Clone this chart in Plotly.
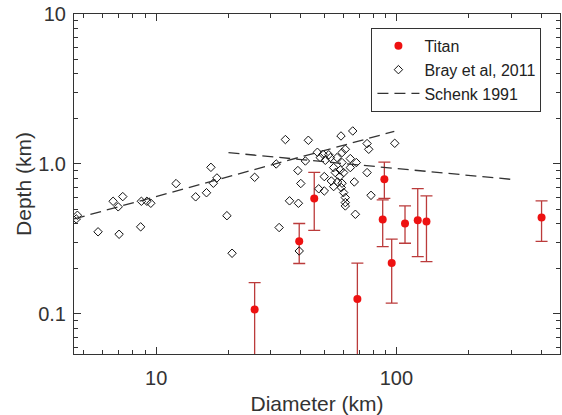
import plotly.graph_objects as go

# Titan craters (diameter km, depth km, error bars)
titan_d = [25.7, 39.4, 45.5, 68.8, 89.1, 87.7, 95.6, 108.6, 122.7, 133.4, 402]
titan_depth = [0.107, 0.305, 0.588, 0.126, 0.79, 0.426, 0.219, 0.401, 0.421, 0.413, 0.44]
titan_err_up = [0.055, 0.096, 0.29, 0.092, 0.24, 0.15, 0.096, 0.124, 0.264, 0.2, 0.127]
titan_err_dn = [0.055, 0.088, 0.227, 0.092, 0.2, 0.145, 0.101, 0.105, 0.18, 0.19, 0.135]

# Bray et al, 2011 (Ganymede craters)
bray_d = [4.65, 4.7, 5.73, 6.62, 6.95, 7.26, 7.01, 8.68, 9.15, 9.5,
          8.62, 12.1, 14.6, 16.2, 16.9, 17.3, 17.9, 19.7, 20.7, 25.7,
          31.6, 32.5, 34.5, 35.9, 39.1, 38.9, 40.0, 39.4, 41.8, 43.0,
          46.9, 48.2, 49.5, 50.6, 52.3, 53.1, 56.6, 59.4, 61.3, 58.8,
          65.8, 75.5, 76.7, 98.4, 54.8, 59.4, 64.3, 68.1, 75.5, 55.7,
          58.4, 60.3, 64.3, 58.0, 50.1, 53.6, 56.9, 59.4, 66.8, 54.8,
          59.0, 47.5, 50.1, 60.3, 78.4, 61.3, 61.3, 61.3, 67.5]
bray_depth = [0.43, 0.455, 0.353, 0.564, 0.518, 0.606, 0.34, 0.564, 0.564, 0.547,
              0.381, 0.74, 0.604, 0.643, 0.95, 0.744, 0.807, 0.452, 0.254, 0.815,
              1.0, 0.377, 1.455, 0.568, 0.547, 0.904, 0.741, 0.263, 1.047, 1.439,
              1.197, 1.103, 1.16, 1.058, 1.152, 1.103, 1.103, 1.191, 1.253, 1.537,
              1.66, 1.368, 1.253, 1.374, 0.946, 1.022, 1.086, 1.022, 0.876, 0.876,
              0.912, 0.876, 0.946, 0.824, 0.824, 0.77, 0.759, 0.744, 0.759, 0.707,
              0.696, 0.683, 0.661, 0.645, 0.618, 0.597, 0.553, 0.525, 0.462]

# Schenk 1991 fits (two segments)
schenk1_d = [4.55, 98]
schenk1_depth = [0.43, 1.65]
schenk2_d = [20, 300]
schenk2_depth = [1.19, 0.79]

x_major = [10, 100]
x_major_text = ["10", "100"]
x_minor = [5, 6, 7, 8, 9, 20, 30, 40, 50, 60, 70, 80, 90, 200, 300, 400]
y_major = [0.1, 1, 10]
y_major_text = ["0.1", "1.0", "10"]
y_minor = [0.06, 0.07, 0.08, 0.09, 0.2, 0.3, 0.4, 0.5, 0.6, 0.7, 0.8, 0.9,
           2, 3, 4, 5, 6, 7, 8, 9]

FONT = "Liberation Sans, Arial, sans-serif"
AX = "#333333"

fig = go.Figure()

fig.add_trace(go.Scatter(
    x=titan_d, y=titan_depth, mode="markers", name="Titan",
    marker=dict(color="#ee1111", size=8),
    error_y=dict(type="data", symmetric=False, array=titan_err_up,
                 arrayminus=titan_err_dn, color="#bb3b3b", thickness=1.3, width=6),
))

fig.add_trace(go.Scatter(
    x=bray_d, y=bray_depth, mode="markers", name="Bray et al, 2011",
    marker=dict(symbol="diamond-open", color="#111111", size=6.5,
                line=dict(width=1)),
))

fig.add_trace(go.Scatter(
    x=schenk1_d + [None] + schenk2_d,
    y=schenk1_depth + [None] + schenk2_depth,
    mode="lines", name="Schenk 1991", connectgaps=False,
    line=dict(color="#333333", width=1.3, dash="11px,6px"),
))

axis_common = dict(
    type="log", showgrid=False, zeroline=False, automargin=False,
    showline=True, linecolor=AX, linewidth=1, mirror="ticks",
    ticks="inside", ticklen=7, tickwidth=1, tickcolor=AX,
    ticklabeloverflow="allow",
    tickfont=dict(family=FONT, size=20, color="#333333"),
)

fig.update_xaxes(
    **axis_common,
    range=[0.658, 2.681],
    tickmode="array", tickvals=x_major, ticktext=x_major_text,
    minor=dict(tickmode="array", tickvals=x_minor, ticks="inside",
               ticklen=4, tickcolor=AX),
    title=dict(text="Diameter (km)", font=dict(family=FONT, size=21, color="#333333"),
               standoff=10),
    ticklabelstandoff=6,
)
fig.update_yaxes(
    **axis_common,
    range=[-1.267, 1.0],
    tickmode="array", tickvals=y_major, ticktext=y_major_text,
    minor=dict(tickmode="array", tickvals=y_minor, ticks="inside",
               ticklen=4, tickcolor=AX),
    title=dict(text="Depth (km)", font=dict(family=FONT, size=21, color="#333333"),
               standoff=0),
    ticklabelstandoff=3,
)

fig.update_layout(
    width=562, height=415,
    margin=dict(l=74, r=2, t=14, b=61),
    paper_bgcolor="white", plot_bgcolor="white",
    font=dict(family=FONT, color="#333333"),
    legend=dict(x=0.612, y=0.959, xanchor="left", yanchor="top",
                bgcolor="white", bordercolor=AX, borderwidth=1,
                tracegroupgap=0, itemwidth=42,
                font=dict(family=FONT, size=16, color="#222222")),
)

# drop the page's default 8px body margin so the figure fills the window
fig.write_html("out.html", config={"displayModeBar": False},
               post_script="document.body.style.margin='0';")
